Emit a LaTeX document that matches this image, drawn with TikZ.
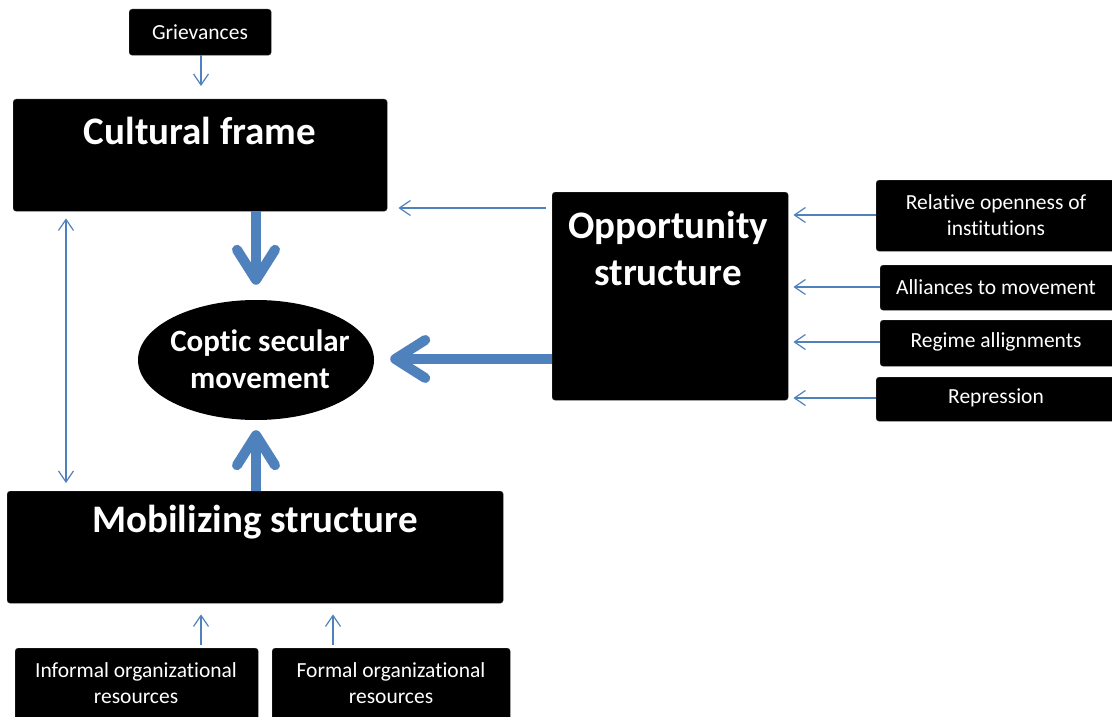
\documentclass[tikz,border=0pt]{standalone}
\usepackage{fontspec}
\setmainfont{Carlito}[Ligatures=NoCommon]
\usetikzlibrary{arrows.meta,calc,shapes.geometric}
\definecolor{arrowblue}{HTML}{4F81BD}
\tikzset{
  blackbox/.style={fill=black, draw=black!80, rounded corners=3pt, inner sep=0pt, anchor=north west},
  title/.style={text=white, font=\bfseries\fontsize{39}{44}\selectfont, align=center, inner sep=0pt},
  smalltext/.style={text=white, font=\fontsize{21.5}{26}\selectfont, align=center, inner sep=0pt},
  thin arrow/.style={draw=arrowblue, line width=1.2pt, -{Straight Barb[length=11pt,width=15pt]}},
  thin double/.style={draw=arrowblue, line width=1.2pt, {Straight Barb[length=11pt,width=15pt]}-{Straight Barb[length=11pt,width=15pt]}},
  thick arrow/.style={draw=arrowblue, line width=10pt, -{Straight Barb[length=30pt,width=38pt,line cap=round,line join=round]}},
}
\begin{document}
\begin{tikzpicture}[x=1pt,y=-1pt]
\useasboundingbox (0,0) rectangle (1112,717);
% boxes
\node[blackbox, minimum width=142pt, minimum height=46pt] (griev) at (129,9) {};
\node[smalltext] (grievT) at (200,32) {Grievances};
\node[blackbox, minimum width=374pt, minimum height=112pt] (cult) at (13,99) {};
\node[title] (cultT) at (200,131) {Cultural frame};
\node[blackbox, minimum width=236pt, minimum height=208pt] (opp) at (552,192) {};
\node[title, font=\bfseries\fontsize{39}{47}\selectfont] (oppT) at (668,248) {Opportunity\\structure};
\node[blackbox, minimum width=496pt, minimum height=112pt] (mob) at (7,491) {};
\node[title] (mobT) at (255,522) {Mobilizing structure};
\node[ellipse, fill=black, minimum width=236pt, minimum height=120pt, inner sep=0pt] (csm) at (256,360) {};
\node[title, font=\bfseries\fontsize{31}{37}\selectfont] (csmT) at (260,359) {Coptic secular\\movement};
\node[blackbox, minimum width=240pt, minimum height=71pt] (rel) at (876,180) {};
\node[smalltext] (relT) at (996,215) {Relative openness of\\institutions};
\node[blackbox, minimum width=236pt, minimum height=45pt] (all) at (880,265) {};
\node[smalltext] (allT) at (996,287) {Alliances to movement};
\node[blackbox, minimum width=236pt, minimum height=46pt] (reg) at (880,320) {};
\node[smalltext] (regT) at (996,342) {Regime allignments};
\node[blackbox, minimum width=240pt, minimum height=44pt] (rep) at (876,377) {};
\node[smalltext] (repT) at (996,398) {Repression};
\node[blackbox, minimum width=243pt, minimum height=75pt] (inf) at (15,648) {};
\node[smalltext] (infT) at (136,683) {Informal organizational\\resources};
\node[blackbox, minimum width=238pt, minimum height=75pt] (form) at (272,648) {};
\node[smalltext] (formT) at (391,683) {Formal organizational\\resources};
% connectors
\coordinate (gA) at (201,0);
\draw[thin arrow, shorten >=13pt] (griev.south -| gA) -- (cult.north -| gA);
\coordinate (oc) at (0,208);
\draw[thin arrow, shorten <=6pt, shorten >=11pt] (opp.west |- oc) -- (cult.east |- oc);
\coordinate (dx) at (66,0);
\draw[thin double, shorten <=7pt, shorten >=8pt] (cult.south -| dx) -- (mob.north -| dx);
\coordinate (tx) at (256,0);
\draw[thick arrow, shorten >=15pt] (cult.south -| tx) -- (csm.north -| tx);
\draw[thick arrow, shorten >=10pt] (mob.north -| tx) -- (csm.south -| tx);
\coordinate (hy) at (0,359);
\draw[thick arrow, shorten >=16pt] (opp.west |- hy) -- (csm.east |- hy);
\draw[thin arrow, shorten >=5pt] (rel.west |- 0,215) -- (opp.east |- 0,215);
\draw[thin arrow, shorten >=5pt] (all.west |- 0,287) -- (opp.east |- 0,287);
\draw[thin arrow, shorten >=5pt] (reg.west |- 0,342) -- (opp.east |- 0,342);
\draw[thin arrow, shorten >=5pt] (rep.west |- 0,398) -- (opp.east |- 0,398);
\draw[thin arrow, shorten <=3pt, shorten >=11pt] (inf.north -| 201,0) -- (mob.south -| 201,0);
\draw[thin arrow, shorten <=3pt, shorten >=11pt] (form.north -| 333,0) -- (mob.south -| 333,0);
\end{tikzpicture}
\end{document}
